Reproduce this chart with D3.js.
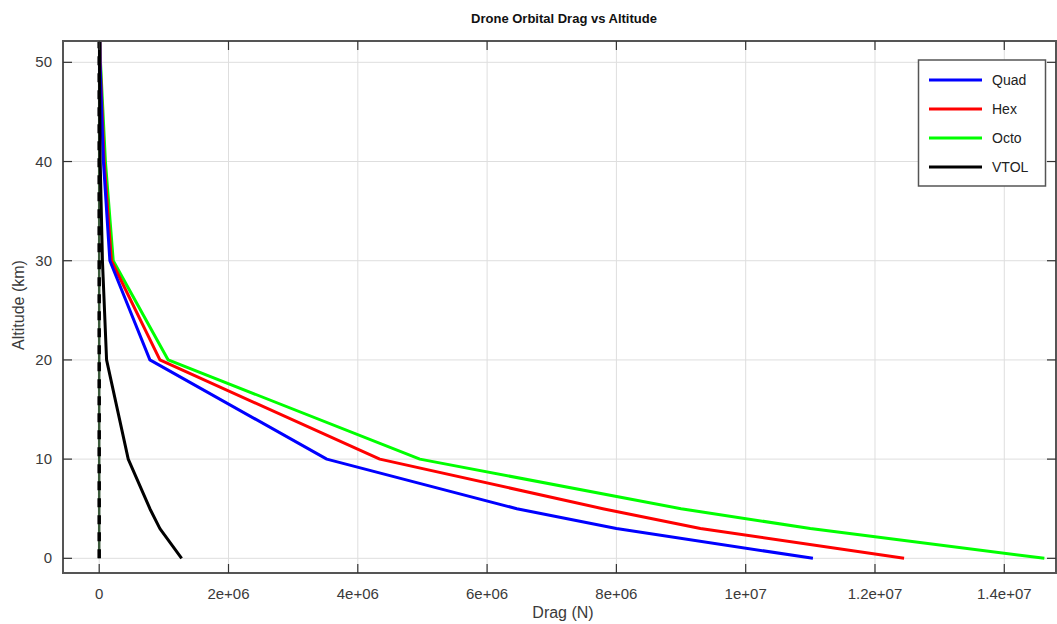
<!DOCTYPE html>
<html>
<head>
<meta charset="utf-8">
<script src="https://cdn.jsdelivr.net/npm/d3@7"></script>
<style>
  body { margin: 0; background: white; }
</style>
</head>
<body>
<script>
// altitude points (km) shared by every series
const altitudes = [0, 3, 5, 10, 20, 30, 40, 50, 60];

const quad = [1.104e7, 8.0e6, 6.46e6, 3.52e6, 7.84e5, 1.65e5, 6.5e4, 1.2e4, 3e3];
const hex  = [1.245e7, 9.3e6, 7.79e6, 4.34e6, 9.39e5, 1.89e5, 7.6e4, 1.5e4, 4e3];
const octo = [1.462e7, 1.10e7, 9.0e6, 4.96e6, 1.067e6, 2.17e5, 9.6e4, 2.0e4, 5e3];
const vtol = [1.275e6, 9.39e5, 7.84e5, 4.49e5, 1.14e5, 5.0e4, 1.5e4, 5e3, 1e3];
const zeroLine = [0, 0, 0, 0, 0, 0, 0, 0, 0];

const seriesNames = ["Quad", "Hex", "Octo", "VTOL"];
const seriesColors = ["#0000ff", "#ff0000", "#00ff00", "#000000"];

const xTicks = [0, 2e6, 4e6, 6e6, 8e6, 1e7, 1.2e7, 1.4e7];
const xTickLabels = ["0", "2e+06", "4e+06", "6e+06", "8e+06", "1e+07", "1.2e+07", "1.4e+07"];
const yTicks = [0, 10, 20, 30, 40, 50];

const W = 1057, H = 624;
const pLeft = 63, pRight = 1056, pTop = 41, pBottom = 573;

const svg = d3.select("body").append("svg")
  .attr("width", W)
  .attr("height", H)
  .style("font-family", "'Liberation Sans', Arial, sans-serif");

const x = d3.scaleLinear().domain([-5.6e5, 1.48e7]).range([pLeft, pRight]);
const y = d3.scaleLinear().domain([-1.48, 52.15]).range([pBottom, pTop]);

// grid
svg.append("g").selectAll("line").data(xTicks).join("line")
  .attr("x1", d => x(d)).attr("x2", d => x(d))
  .attr("y1", pTop).attr("y2", pBottom)
  .attr("stroke", "#dedede").attr("stroke-width", 1);
svg.append("g").selectAll("line").data(yTicks).join("line")
  .attr("x1", pLeft).attr("x2", pRight)
  .attr("y1", d => y(d)).attr("y2", d => y(d))
  .attr("stroke", "#dedede").attr("stroke-width", 1);

svg.append("clipPath").attr("id", "plot")
  .append("rect").attr("x", pLeft).attr("y", pTop)
  .attr("width", pRight - pLeft).attr("height", pBottom - pTop);

const plot = svg.append("g").attr("clip-path", "url(#plot)");

const line = d3.line()
  .x(d => x(d[0]))
  .y(d => y(d[1]));

// zero reference line (dashed)
const zeroPts = zeroLine.map((v, i) => [v, altitudes[i]]);
plot.append("path")
  .attr("d", line(zeroPts))
  .attr("fill", "none")
  .attr("stroke", "#3b5a3b")
  .attr("stroke-width", 2.5);
plot.append("path")
  .attr("d", line(zeroPts))
  .attr("fill", "none")
  .attr("stroke", "#000")
  .attr("stroke-width", 3.5)
  .attr("stroke-dasharray", "9,8");

const allSeries = [quad, hex, octo, vtol];
// octo underneath, then hex, quad, vtol on top
[2, 1, 0, 3].forEach(k => {
  plot.append("path")
    .attr("d", line(allSeries[k].map((v, i) => [v, altitudes[i]])))
    .attr("fill", "none")
    .attr("stroke", seriesColors[k])
    .attr("stroke-width", 3)
    .attr("stroke-linejoin", "round");
});

// frame
svg.append("rect")
  .attr("x", pLeft).attr("y", pTop)
  .attr("width", pRight - pLeft).attr("height", pBottom - pTop)
  .attr("fill", "none")
  .attr("stroke", "#555")
  .attr("stroke-width", 2);

// ticks (inward, on all sides)
const tl = 9;
svg.append("g").selectAll("line").data(xTicks).join("line")
  .attr("x1", d => x(d)).attr("x2", d => x(d))
  .attr("y1", pBottom).attr("y2", pBottom - tl)
  .attr("stroke", "#333").attr("stroke-width", 1.2);
svg.append("g").selectAll("line").data(xTicks).join("line")
  .attr("x1", d => x(d)).attr("x2", d => x(d))
  .attr("y1", pTop).attr("y2", pTop + tl)
  .attr("stroke", "#333").attr("stroke-width", 1.2);
svg.append("g").selectAll("line").data(yTicks).join("line")
  .attr("x1", pLeft).attr("x2", pLeft + tl)
  .attr("y1", d => y(d)).attr("y2", d => y(d))
  .attr("stroke", "#333").attr("stroke-width", 1.2);
svg.append("g").selectAll("line").data(yTicks).join("line")
  .attr("x1", pRight).attr("x2", pRight - tl)
  .attr("y1", d => y(d)).attr("y2", d => y(d))
  .attr("stroke", "#333").attr("stroke-width", 1.2);

// tick labels
svg.append("g").selectAll("text").data(xTicks).join("text")
  .attr("x", d => x(d))
  .attr("y", 599)
  .attr("text-anchor", "middle")
  .attr("font-size", "15px")
  .attr("fill", "#3a3a3a")
  .text((d, i) => xTickLabels[i]);
svg.append("g").selectAll("text").data(yTicks).join("text")
  .attr("x", 52)
  .attr("y", d => y(d) + 5)
  .attr("text-anchor", "end")
  .attr("font-size", "15px")
  .attr("fill", "#3a3a3a")
  .text(d => d);

// titles
svg.append("text")
  .attr("x", 564).attr("y", 23)
  .attr("text-anchor", "middle")
  .attr("font-size", "13px")
  .attr("font-weight", "bold")
  .attr("fill", "#111")
  .text("Drone Orbital Drag vs Altitude");

svg.append("text")
  .attr("x", 563).attr("y", 618)
  .attr("text-anchor", "middle")
  .attr("font-size", "16px")
  .attr("fill", "#3a3a3a")
  .text("Drag (N)");

svg.append("text")
  .attr("transform", "translate(24,305) rotate(-90)")
  .attr("text-anchor", "middle")
  .attr("font-size", "16px")
  .attr("fill", "#3a3a3a")
  .text("Altitude (km)");

// legend
const lg = svg.append("g");
lg.append("rect")
  .attr("x", 918.5).attr("y", 60)
  .attr("width", 127).attr("height", 126)
  .attr("fill", "white")
  .attr("stroke", "#555")
  .attr("stroke-width", 1.5);
seriesNames.forEach((name, i) => {
  const ly = 80 + i * 29;
  lg.append("line")
    .attr("x1", 929).attr("x2", 982)
    .attr("y1", ly).attr("y2", ly)
    .attr("stroke", seriesColors[i])
    .attr("stroke-width", 3);
  lg.append("text")
    .attr("x", 992).attr("y", ly + 5)
    .attr("font-size", "14px")
    .attr("fill", "#222")
    .text(name);
});
</script>
</body>
</html>
